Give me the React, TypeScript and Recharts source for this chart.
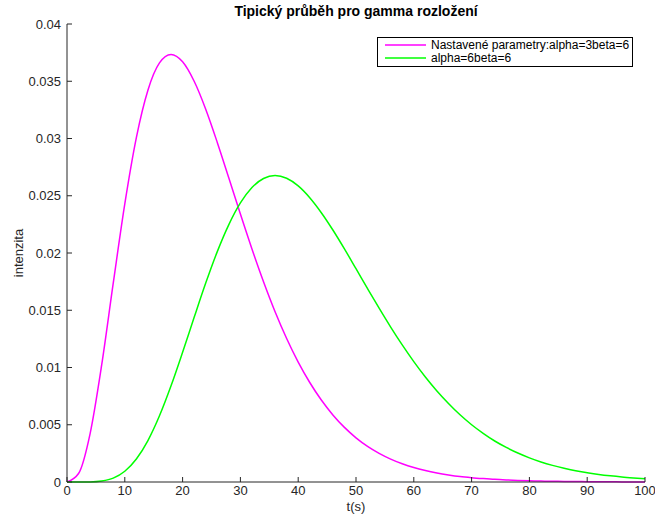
import { LineChart, Line, XAxis, YAxis } from 'recharts';

const tValues = [
  0, 2, 4, 6, 8, 10, 12, 14, 16, 18, 20, 22, 24, 26, 28, 30, 32, 34, 36, 38, 40, 42, 44, 46, 48, 50,
  52, 54, 56, 58, 60, 62, 64, 66, 68, 70, 72, 74, 76, 78, 80, 82, 84, 86, 88, 90, 92, 94, 96, 98, 100,
];

// alpha=3 beta=6 (magenta)
const seriesA3 = [
  0, 0.00074, 0.00423, 0.01022, 0.01736, 0.02429, 0.03008, 0.03422, 0.0366, 0.03734, 0.0367, 0.035,
  0.03256, 0.02966, 0.02655, 0.0234, 0.02035, 0.01749, 0.01487, 0.01253, 0.01047, 0.00869, 0.00716,
  0.00586, 0.00477, 0.00386, 0.00311, 0.0025, 0.002, 0.00159, 0.00126, 0.001, 0.00079, 0.00062,
  0.00048, 0.00038, 0.0003, 0.00023, 0.00018, 0.00014, 0.00011, 0.00008, 0.00006, 0.00005, 0.00004,
  0.00003, 0.00002, 0.00002, 0.00001, 0.00001, 0.00001,
];

// alpha=6 beta=6 (green)
const seriesA6 = [
  0, 0, 0.00001, 0.00009, 0.00034, 0.00094, 0.00201, 0.00362, 0.00578, 0.0084, 0.01133, 0.01438,
  0.01737, 0.02012, 0.02248, 0.02437, 0.02572, 0.02651, 0.02677, 0.02653, 0.02586, 0.02483, 0.02352,
  0.02201, 0.02036, 0.01863, 0.01689, 0.01518, 0.01353, 0.01197, 0.01051, 0.00917, 0.00795, 0.00686,
  0.00587, 0.005, 0.00425, 0.00358, 0.00302, 0.00253, 0.00211, 0.00175, 0.00145, 0.0012, 0.00098,
  0.00081, 0.00066, 0.00054, 0.00044, 0.00036, 0.00029,
];

const xTicks = [0, 10, 20, 30, 40, 50, 60, 70, 80, 90, 100];
const yTicks = [0, 0.005, 0.01, 0.015, 0.02, 0.025, 0.03, 0.035, 0.04];

const legendNames = ['Nastavené parametry:alpha=3beta=6', 'alpha=6beta=6'];
const colors = ['#ff00ff', '#00ff00'];

const data = tValues.map((t, i) => ({ t, a3: seriesA3[i], a6: seriesA6[i] }));

const font = '"Liberation Sans", Arial, sans-serif';
const axisColor = '#262626';

function LegendBox() {
  return (
    <div
      style={{
        position: 'absolute',
        left: 377,
        top: 37,
        width: 247,
        border: '1px solid #000',
        background: '#fff',
        padding: '1px 0 2px 7px',
        fontFamily: font,
        fontSize: 12,
        color: '#000',
        lineHeight: '12.5px',
        whiteSpace: 'nowrap',
      }}
    >
      {legendNames.map((name, i) => (
        <div key={name} style={{ display: 'flex', alignItems: 'center' }}>
          <svg width={41} height={12} style={{ marginRight: 5 }}>
            <line x1={0} x2={41} y1={6} y2={6} stroke={colors[i]} strokeWidth={1.5} />
          </svg>
          <span>{name}</span>
        </div>
      ))}
    </div>
  );
}

export default function App() {
  return (
    <div style={{ position: 'absolute', left: 0, top: 0, width: 655, height: 517, background: '#fff' }}>
      <div
        style={{
          position: 'absolute',
          left: 67,
          width: 578,
          top: 3,
          textAlign: 'center',
          fontFamily: font,
          fontWeight: 'bold',
          fontSize: 14,
          color: '#000',
        }}
      >
        Tipický průběh pro gamma rozložení
      </div>
      <div
        style={{
          position: 'absolute',
          left: 18,
          top: 253,
          transform: 'translate(-50%, -50%) rotate(-90deg)',
          fontFamily: font,
          fontSize: 13,
          color: axisColor,
          whiteSpace: 'nowrap',
        }}
      >
        intenzita
      </div>
      <div
        style={{
          position: 'absolute',
          left: 67,
          width: 578,
          top: 499,
          textAlign: 'center',
          fontFamily: font,
          fontSize: 13,
          color: axisColor,
        }}
      >
        t(s)
      </div>
      <LineChart
        width={655}
        height={517}
        data={data}
        margin={{ top: 24, right: 10, left: 0, bottom: 0 }}
        style={{ fontFamily: font }}
      >
        <XAxis
          dataKey="t"
          type="number"
          domain={[0, 100]}
          ticks={xTicks}
          height={35}
          tickSize={-5}
          tickMargin={9}
          stroke={axisColor}
          tick={{ fill: axisColor, fontSize: 13 }}
        />
        <YAxis
          type="number"
          domain={[0, 0.04]}
          ticks={yTicks}
          width={67}
          tickSize={-5}
          tickMargin={11}
          stroke={axisColor}
          tick={{ fill: axisColor, fontSize: 13 }}
        />
        <Line
          type="monotone"
          dataKey="a3"
          name={legendNames[0]}
          stroke={colors[0]}
          strokeWidth={1.5}
          dot={false}
          isAnimationActive={false}
        />
        <Line
          type="monotone"
          dataKey="a6"
          name={legendNames[1]}
          stroke={colors[1]}
          strokeWidth={1.5}
          dot={false}
          isAnimationActive={false}
        />
      </LineChart>
      <LegendBox />
    </div>
  );
}
